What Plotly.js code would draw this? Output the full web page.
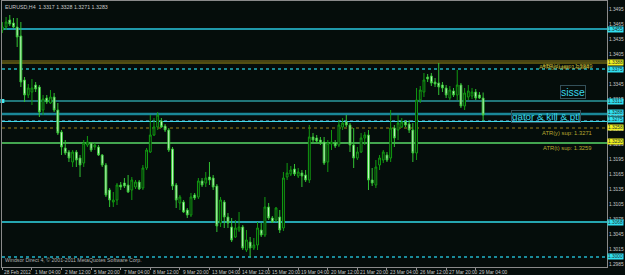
<!DOCTYPE html>
<html><head><meta charset="utf-8">
<script src="https://cdn.plot.ly/plotly-3.0.1.min.js"></script>
<style>html,body{margin:0;padding:0;background:#050d0b;}#chart{width:625px;height:275px;}</style>
</head><body><div id="chart"></div>
<script>
// ---- data (EURUSD, H4) ----
const headerText = 'EURUSD,H4  1.3317 1.3328 1.3271 1.3283';
const footerText = 'Windsor Direct 4, \u00a9 2001-2011 MetaQuotes Software Corp.';
const openP = [1.3453,1.3459,1.3473,1.3467,1.3459,1.3441,1.3353,1.3323,1.3329,1.3343,
1.3339,1.3293,1.3317,1.3307,1.3319,1.3293,1.3249,1.3217,1.3209,1.3189,
1.3209,1.3197,1.3187,1.3223,1.3227,1.3219,1.3219,1.3203,1.3183,1.3133,
1.3109,1.3113,1.3143,1.3147,1.3143,1.3133,1.3139,1.3149,1.3137,1.3177,
1.3209,1.3243,1.3259,1.3271,1.3261,1.3253,1.3215,1.3143,1.3107,1.3109,
1.3093,1.3083,1.3123,1.3119,1.3151,1.3147,1.3159,1.3157,1.3141,1.3067,
1.3109,1.3079,1.3059,1.3039,1.3053,1.3059,1.3013,1.3029,1.3017,1.3023,
1.3053,1.3043,1.3099,1.3077,1.3073,1.3079,1.3057,1.3159,1.3165,1.3175,
1.3161,1.3167,1.3163,1.3153,1.3239,1.3237,1.3233,1.3229,1.3189,1.3225,
1.3227,1.3223,1.3259,1.3269,1.3263,1.3223,1.3197,1.3209,1.3237,1.3243,
1.3153,1.3143,1.3183,1.3193,1.3203,1.3197,1.3257,1.3253,1.3259,1.3269,
1.3265,1.3253,1.3207,1.3313,1.3329,1.3359,1.3361,1.3349,1.3347,1.3343,
1.3337,1.3317,1.3331,1.3323,1.3343,1.3301,1.3319,1.3321,1.3329,1.3323,1.3317];
const highP = [1.3469,1.3479,1.3483,1.3477,1.3477,1.3469,1.3359,1.3345,1.3355,1.3349,
1.3343,1.3323,1.3323,1.3333,1.3327,1.3307,1.3253,1.3233,1.3213,1.3213,
1.3213,1.3203,1.3233,1.3241,1.3229,1.3227,1.3223,1.3205,1.3187,1.3137,
1.3129,1.3147,1.3149,1.3157,1.3163,1.3159,1.3153,1.3153,1.3183,1.3217,
1.3283,1.3277,1.3289,1.3277,1.3265,1.3257,1.3219,1.3147,1.3123,1.3113,
1.3097,1.3127,1.3127,1.3157,1.3157,1.3169,1.3189,1.3163,1.3145,1.3119,
1.3113,1.3087,1.3077,1.3073,1.3089,1.3063,1.3053,1.3039,1.3037,1.3069,
1.3067,1.3119,1.3107,1.3081,1.3099,1.3093,1.3169,1.3187,1.3181,1.3185,
1.3177,1.3173,1.3173,1.3263,1.3247,1.3243,1.3239,1.3239,1.3233,1.3253,
1.3233,1.3273,1.3277,1.3283,1.3267,1.3257,1.3219,1.3247,1.3249,1.3253,
1.3177,1.3193,1.3203,1.3213,1.3209,1.3293,1.3263,1.3283,1.3277,1.3273,
1.3273,1.3267,1.3337,1.3341,1.3367,1.3365,1.3367,1.3357,1.3387,1.3349,
1.3343,1.3341,1.3337,1.3373,1.3347,1.3337,1.3343,1.3337,1.3335,1.3329,1.3328];
const lowP = [1.3447,1.3453,1.3461,1.3457,1.3419,1.3339,1.3309,1.3317,1.3303,1.3329,
1.3279,1.3283,1.3305,1.3305,1.3289,1.3243,1.3203,1.3203,1.3189,1.3179,
1.3179,1.3159,1.3179,1.3219,1.3209,1.3213,1.3201,1.3179,1.3119,1.3099,
1.3099,1.3103,1.3133,1.3137,1.3127,1.3113,1.3135,1.3133,1.3133,1.3173,
1.3207,1.3241,1.3253,1.3257,1.3249,1.3209,1.3133,1.3097,1.3093,1.3087,
1.3077,1.3079,1.3113,1.3115,1.3139,1.3139,1.3143,1.3133,1.3049,1.3059,
1.3057,1.3057,1.3029,1.3037,1.3049,1.3013,1.3009,1.2999,1.3013,1.3013,
1.3039,1.3039,1.3073,1.3067,1.3069,1.3047,1.3051,1.3153,1.3161,1.3161,
1.3157,1.3139,1.3149,1.3147,1.3227,1.3225,1.3223,1.3183,1.3169,1.3213,
1.3217,1.3219,1.3253,1.3259,1.3209,1.3177,1.3193,1.3207,1.3223,1.3133,
1.3141,1.3137,1.3173,1.3187,1.3189,1.3189,1.3219,1.3233,1.3257,1.3259,
1.3247,1.3189,1.3193,1.3307,1.3319,1.3349,1.3341,1.3339,1.3323,1.3329,
1.3317,1.3313,1.3319,1.3313,1.3297,1.3293,1.3313,1.3315,1.3313,1.3315,1.3271];
const closeP = [1.3459,1.3469,1.3465,1.3459,1.3439,1.3349,1.3323,1.3337,1.3337,1.3335,
1.3289,1.3315,1.3309,1.3319,1.3293,1.3247,1.3219,1.3207,1.3197,1.3209,
1.3193,1.3183,1.3227,1.3229,1.3213,1.3223,1.3203,1.3183,1.3123,1.3113,
1.3113,1.3143,1.3139,1.3141,1.3129,1.3153,1.3149,1.3135,1.3177,1.3213,
1.3243,1.3259,1.3283,1.3259,1.3253,1.3213,1.3141,1.3113,1.3119,1.3089,
1.3083,1.3119,1.3117,1.3151,1.3143,1.3157,1.3153,1.3139,1.3061,1.3113,
1.3079,1.3067,1.3033,1.3057,1.3059,1.3017,1.3033,1.3017,1.3023,1.3057,
1.3043,1.3099,1.3077,1.3069,1.3097,1.3053,1.3157,1.3167,1.3173,1.3165,
1.3169,1.3161,1.3153,1.3239,1.3233,1.3231,1.3227,1.3187,1.3227,1.3229,
1.3221,1.3263,1.3267,1.3263,1.3223,1.3197,1.3209,1.3237,1.3243,1.3153,
1.3147,1.3179,1.3197,1.3209,1.3193,1.3257,1.3237,1.3267,1.3269,1.3263,
1.3253,1.3207,1.3313,1.3333,1.3353,1.3355,1.3347,1.3345,1.3339,1.3337,
1.3323,1.3333,1.3323,1.3343,1.3301,1.3327,1.3331,1.3329,1.3317,1.3317,1.3283];
const tickBars = [0,8,16,24,32,40,48,56,64,72,80,88,96,104,112,120,128];
const tickLabels = ['28 Feb 2012','1 Mar 04:00','2 Mar 12:00','5 Mar 20:00','7 Mar 04:00','8 Mar 12:00',
'9 Mar 20:00','13 Mar 04:00','14 Mar 12:00','15 Mar 20:00','19 Mar 04:00','20 Mar 12:00',
'21 Mar 20:00','23 Mar 04:00','26 Mar 12:00','27 Mar 20:00','29 Mar 04:00'];
const priceTicks = [1.3495,1.3465,1.3435,1.3405,1.3375,1.3345,1.3315,1.3285,1.3255,1.3225,
1.3195,1.3165,1.3135,1.3105,1.3075,1.3045,1.3015,1.2985];
const levelPrices = [1.3455,1.3391,1.3387,1.3375,1.3311,1.3285,1.3272,1.3270,1.3257,1.3227,1.3069,1.2999];
const boxPrices = [1.3455,1.3388,1.3375,1.3311,1.3288,1.3275,1.3258,1.3230,1.3068,1.3000];
const atrTexts = ['ATR(d) upp: 1.3389','ATR(y) upp: 1.3384','ATR(y) sup: 1.3271','ATR(t) sup: 1.3259'];
const atrPrices = [1.3391,1.3389,1.3257,1.3227];
const objTexts = ['sisse','gator & kill & ptl'];
const objPrices = [1.3329,1.3281];
const markerPrice = [1.3311];

// ---- styles ----
const BG = '#050d0b';
const FONT = 'Liberation Sans, Arial, sans-serif';
const levelStyles = [
 {c:'#1f98aa',w:2},{c:'#8c7d1c',w:1},{c:'#a09018',w:1},{c:'#1fb0c0',w:1.5,d:'dot'},
 {c:'#3fe0e8',w:1},{c:'#1a8898',w:2.5},{c:'#3a6a80',w:1,d:'dot'},{c:'#40d8e8',w:1},
 {c:'#6a5a12',w:1.5,d:'dot'},{c:'#58d868',w:1.5},{c:'#30d8e8',w:1.5},{c:'#1a8a9a',w:2,d:'dot'}];
const boxColors = ['#30e0f0','#f0f020','#30e0f0','#30e0f0','#30e0f0','#30e0f0','#f0f020','#f0f020','#30e0f0','#30e0f0'];

const xs = openP.map((_, i) => i);
const shapes = levelPrices.map((p, i) => ({type:'line', xref:'paper', yref:'y', x0:0, x1:1, y0:p, y1:p,
  line:{color:levelStyles[i].c, width:levelStyles[i].w, dash:levelStyles[i].d || 'solid'}, layer:'below'}));

const ann = [];
ann.push({xref:'paper', yref:'paper', x:0, y:1, xanchor:'left', yanchor:'top', xshift:1, yshift:-1,
  text:headerText, showarrow:false, font:{family:FONT, size:5.3, color:'#c8c8c8'}});
ann.push({xref:'paper', yref:'paper', x:0, y:0, xanchor:'left', yanchor:'bottom', xshift:1, yshift:2,
  text:footerText, showarrow:false, font:{family:FONT, size:5.2, color:'#b0b0b0'}});
tickBars.forEach((b, i) => ann.push({xref:'x', yref:'paper', x:b, y:0, xanchor:'left', yanchor:'top',
  xshift: i === 0 ? 0 : 1, yshift:-1, text:tickLabels[i], showarrow:false, font:{family:FONT, size:4.8, color:'#c8c8c8'}}));
boxPrices.forEach((p, i) => ann.push({xref:'paper', yref:'y', x:1, y:p, xanchor:'left', yanchor:'middle',
  text:p.toFixed(4), showarrow:false, bgcolor:boxColors[i], borderpad:0, font:{family:FONT, size:4.8, color:'#203030'}}));
atrTexts.forEach((t, i) => ann.push({xref:'paper', yref:'y', x:0.979, y:atrPrices[i], xanchor:'right', yanchor:'top',
  xshift: i === 1 ? -2 : 0, text:t, showarrow:false, font:{family:FONT, size:5.8, color:'#b8a830'}}));
objTexts.forEach((t, i) => ann.push({xref:'paper', yref:'y', x: i === 0 ? 0.9645 : 0.957, y:objPrices[i], xanchor:'right', yanchor:'middle',
  text:t, showarrow:false, bordercolor:'#34505a', borderwidth:1, borderpad:0, font:{family:FONT, size: i === 0 ? 10.5 : 9.8, color:'#3ad8ea'}}));

const traces = [{
  type:'candlestick', x:xs, open:openP, high:highP, low:lowP, close:closeP,
  increasing:{line:{color:'#119a11', width:1}, fillcolor:BG},
  decreasing:{line:{color:'#33c233', width:1}, fillcolor:'#e4ffe4'},
  whiskerwidth:0, hoverinfo:'none', showlegend:false
},{
  type:'scatter', mode:'markers', x:[0], y:markerPrice, cliponaxis:false,
  marker:{symbol:'square', size:4, color:'#40e8f0'}, hoverinfo:'none', showlegend:false
}];

const layout = {
  width:625, height:275, paper_bgcolor:BG, plot_bgcolor:BG,
  margin:{l:2, r:18, t:1, b:8, pad:0}, showlegend:false,
  xaxis:{range:[-0.1,163.5], rangeslider:{visible:false}, showgrid:false, zeroline:false,
    tickvals:tickBars, showticklabels:false, ticks:'outside', ticklen:2, tickcolor:'#909090',
    showline:true, mirror:true, linecolor:'#8a8a8a', linewidth:1},
  yaxis:{range:[1.2979,1.3511], side:'right', showgrid:false, zeroline:false,
    tickvals:priceTicks, tickformat:'.4f', ticks:'', ticklabelstandoff:0,
    tickfont:{family:FONT, size:4.8, color:'#c8c8c8'},
    showline:true, mirror:true, linecolor:'#8a8a8a', linewidth:1},
  shapes:shapes, annotations:ann
};
Plotly.newPlot('chart', traces, layout, {staticPlot:true, displayModeBar:false});
</script></body></html>
